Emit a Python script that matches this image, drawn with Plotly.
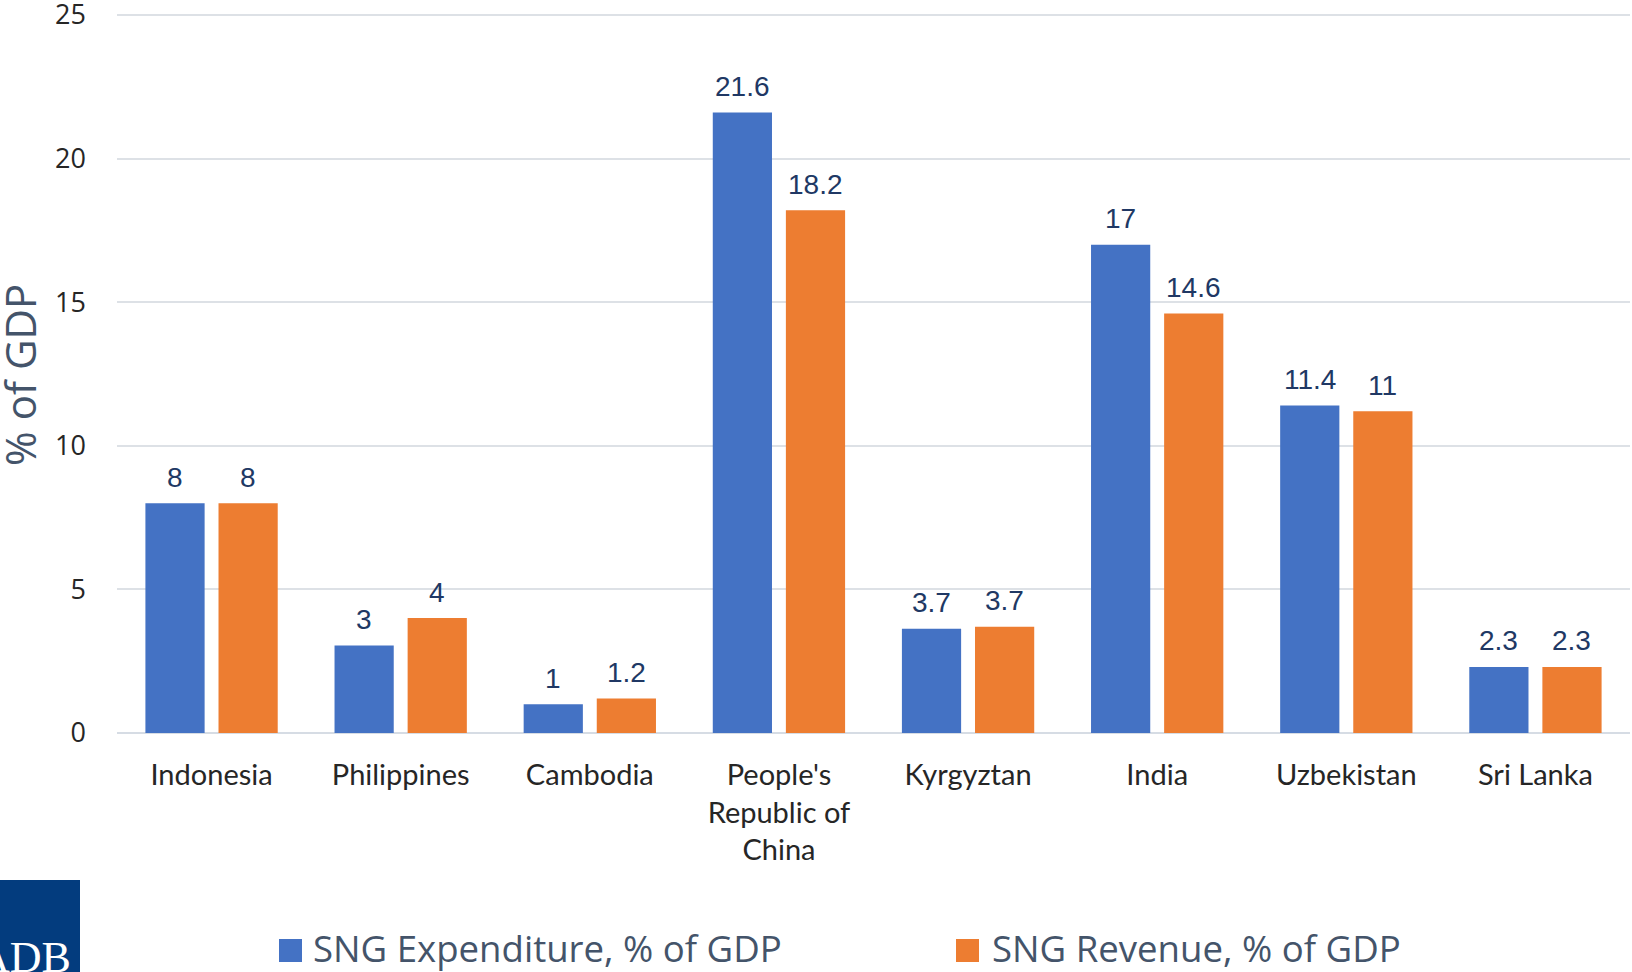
import plotly.graph_objects as go

# ---- data ----
categories = ["Indonesia", "Philippines", "Cambodia", "People's Republic of China",
              "Kyrgyztan", "India", "Uzbekistan", "Sri Lanka"]
category_ticktext = ["Indonesia", "Philippines", "Cambodia", "People's<br>Republic of<br>China",
                     "Kyrgyztan", "India", "Uzbekistan", "Sri Lanka"]
expenditure = [8, 3.05, 1, 21.6, 3.63, 17, 11.4, 2.3]
revenue = [8, 4, 1.2, 18.2, 3.7, 14.6, 11.2, 2.3]
expenditure_labels = ["8", "3", "1", "21.6", "3.7", "17", "11.4", "2.3"]
revenue_labels = ["8", "4", "1.2", "18.2", "3.7", "14.6", "11", "2.3"]
series_names = ["SNG Expenditure, % of GDP", "SNG Revenue, % of GDP"]
y_ticks = [0, 5, 10, 15, 20, 25]
y_max = 25.1

# ---- style ----
BLUE = "#4472C4"
ORANGE = "#ED7D31"
LABEL_COLOR = "#203864"
SLATE = "#44546A"
W, H = 1632, 972
ML, MR, MT, MB = 117, 2, 12, 239
PW, PH = W - ML - MR, H - MT - MB


def px_x(x):
    return (x - ML) / PW


def px_y(y):
    return (H - MB - y) / PH


fig = go.Figure()
fig.add_trace(go.Bar(x=categories, y=expenditure, name=series_names[0],
                     marker=dict(color=BLUE, line=dict(width=0)), showlegend=False))
fig.add_trace(go.Bar(x=categories, y=revenue, name=series_names[1],
                     marker=dict(color=ORANGE, line=dict(width=0)), showlegend=False))

annotations = []
for cat, v, t in zip(categories, expenditure, expenditure_labels):
    annotations.append(dict(x=cat, y=v, text=t, showarrow=False, xshift=-36.5, yshift=26,
                            yanchor="middle", xanchor="center",
                            font=dict(family="Liberation Sans, Arial", size=28, color=LABEL_COLOR)))
for cat, v, t in zip(categories, revenue, revenue_labels):
    annotations.append(dict(x=cat, y=v, text=t, showarrow=False, xshift=36.5, yshift=26,
                            yanchor="middle", xanchor="center",
                            font=dict(family="Liberation Sans, Arial", size=28, color=LABEL_COLOR)))

# y-axis title
annotations.append(dict(xref="paper", yref="paper", x=px_x(19), y=px_y(375), text="% of GDP",
                        textangle=-90, showarrow=False, xanchor="center", yanchor="middle",
                        font=dict(family="Open Sans", size=42, color=SLATE)))

# custom legend
shapes = []
legend_items = [(series_names[0], BLUE, 279, 302, 311), (series_names[1], ORANGE, 956, 979, 990)]
for name, col, sx0, sx1, tx in legend_items:
    shapes.append(dict(type="rect", xref="paper", yref="paper", x0=px_x(sx0), x1=px_x(sx1),
                       y0=px_y(962), y1=px_y(939), fillcolor=col, line=dict(width=0)))
    annotations.append(dict(xref="paper", yref="paper", x=px_x(tx), y=px_y(948), text=name,
                            showarrow=False, xanchor="left", yanchor="middle",
                            font=dict(family="Open Sans", size=36.6, color=SLATE)))

# ADB logo block
shapes.append(dict(type="rect", xref="paper", yref="paper", x0=px_x(-10), x1=px_x(80),
                   y0=px_y(990), y1=px_y(880), fillcolor="#033C7E", line=dict(width=0)))
annotations.append(dict(xref="paper", yref="paper", x=px_x(73), y=px_y(984), text="ADB",
                        showarrow=False, xanchor="right", yanchor="bottom",
                        font=dict(family="Liberation Serif", size=44, color="white")))

fig.update_layout(
    width=W, height=H,
    margin=dict(l=ML, r=MR, t=MT, b=MB, autoexpand=False),
    paper_bgcolor="white", plot_bgcolor="white",
    barmode="group", bargap=0.227, bargroupgap=0.19,
    showlegend=False,
    font=dict(family="Open Sans", color="#262626"),
    annotations=annotations, shapes=shapes,
)
fig.update_xaxes(tickmode="array", tickvals=categories, ticktext=category_ticktext,
                 tickfont=dict(family="Lato", size=29, color="#262626"),
                 showgrid=False, showline=False, ticks="", ticklabelstandoff=22)
fig.update_yaxes(range=[0, y_max], tickmode="array", tickvals=y_ticks, showgrid=True,
                 gridcolor="#DDE1E6", gridwidth=1.5, zeroline=True, zerolinecolor="#D6DCE4",
                 zerolinewidth=2, showline=False, ticks="", ticklabeloverflow="allow",
                 tickfont=dict(family="Open Sans", size=27, color="#262626"),
                 ticklabelstandoff=30)

fig.write_html("out.html", config={"displayModeBar": False},
               post_script="document.body.style.margin='0px';document.body.style.overflow='hidden';")
